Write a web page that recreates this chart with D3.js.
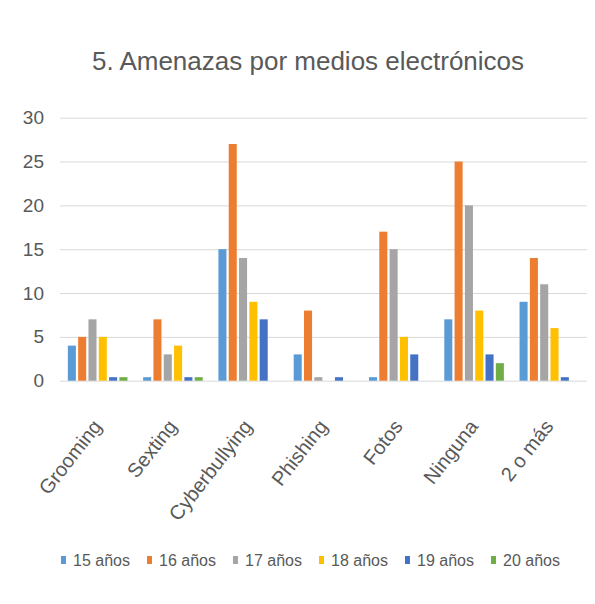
<!DOCTYPE html>
<html>
<head>
<meta charset="utf-8">
<script src="https://cdn.jsdelivr.net/npm/d3@7"></script>
<style>
  html, body { margin: 0; padding: 0; background: #fff; }
  svg { display: block; font-family: "Liberation Sans", Arial, sans-serif; }
</style>
</head>
<body>
<svg id="chart" width="595" height="604"></svg>
<script>
const title = "5. Amenazas por medios electrónicos";
const categories = ["Grooming", "Sexting", "Cyberbullying", "Phishing", "Fotos", "Ninguna", "2 o más"];
const seriesNames = ["15 años", "16 años", "17 años", "18 años", "19 años", "20 años"];
const seriesColors = ["#5B9BD5", "#ED7D31", "#A5A5A5", "#FFC000", "#4472C4", "#70AD47"];
const s15 = [4, 0.4, 15, 3, 0.4, 7, 9];
const s16 = [5, 7, 27, 8, 17, 25, 14];
const s17 = [7, 3, 14, 0.4, 15, 20, 11];
const s18 = [5, 4, 9, 0, 5, 8, 6];
const s19 = [0.4, 0.4, 7, 0.4, 3, 3, 0.4];
const s20 = [0.4, 0.4, 0, 0, 0, 2, 0];
const seriesValues = [s15, s16, s17, s18, s19, s20];
const yTicks = [0, 5, 10, 15, 20, 25, 30];

const svg = d3.select("#chart");
const plotLeft = 60, plotRight = 587, plotTop = 117.7, plotBottom = 380.7;

const x0 = d3.scaleBand().domain(categories).range([plotLeft, plotRight]).padding(0);
const x1 = d3.scaleBand().domain(seriesNames).range([0, x0.bandwidth()])
  .paddingInner(0.22).paddingOuter(0.76);
const y = d3.scaleLinear().domain([0, 30]).range([plotBottom, plotTop]);

svg.append("text")
  .attr("x", 308).attr("y", 70)
  .attr("text-anchor", "middle")
  .attr("font-size", 26)
  .attr("fill", "#595959")
  .text(title);

// gridlines
svg.append("g").selectAll("line").data(yTicks).join("line")
  .attr("x1", plotLeft).attr("x2", plotRight)
  .attr("y1", d => y(d) + 0.5).attr("y2", d => y(d) + 0.5)
  .attr("stroke", "#d9d9d9").attr("stroke-width", 1);

// y axis labels
const yAxis = d3.axisLeft(y).tickValues(yTicks).tickSize(0).tickPadding(0);
const gy = svg.append("g").attr("transform", `translate(44,0)`).call(yAxis);
gy.select(".domain").remove();
gy.selectAll("text").attr("font-size", 19).attr("fill", "#595959")
  .attr("font-family", "Liberation Sans, Arial, sans-serif");

// bars
const data = [];
seriesNames.forEach((s, si) => {
  categories.forEach((c, ci) => {
    data.push({ s, c, v: seriesValues[si][ci], color: seriesColors[si] });
  });
});
svg.append("g").selectAll("rect").data(data.filter(d => d.v > 0)).join("rect")
  .attr("x", d => x0(d.c) + x1(d.s))
  .attr("width", x1.bandwidth())
  .attr("y", d => y(d.v))
  .attr("height", d => y(0) - y(d.v))
  .attr("fill", d => d.color);

// x labels
const xAxis = d3.axisBottom(x0).tickSize(0).tickPadding(0);
const gx = svg.append("g").attr("transform", `translate(0,${plotBottom})`).call(xAxis);
gx.select(".domain").remove();
gx.selectAll("text")
  .attr("font-size", 20).attr("fill", "#595959")
  .attr("font-family", "Liberation Sans, Arial, sans-serif")
  .attr("text-anchor", "end")
  .attr("dy", 0).attr("y", 0)
  .attr("transform", "translate(5,46) rotate(-52)");

// legend
const legend = svg.append("g");
const lx = d3.scalePoint().domain(seriesNames).range([61, 491]);
const items = legend.selectAll("g").data(seriesNames).join("g")
  .attr("transform", d => `translate(${lx(d)},560)`);
items.append("rect").attr("x", 0).attr("y", -4).attr("width", 5).attr("height", 8)
  .attr("fill", (d, i) => seriesColors[i]);
items.append("text").attr("x", 12).attr("y", 5.5)
  .attr("font-size", 16).attr("fill", "#595959")
  .text(d => d);
</script>
</body>
</html>
